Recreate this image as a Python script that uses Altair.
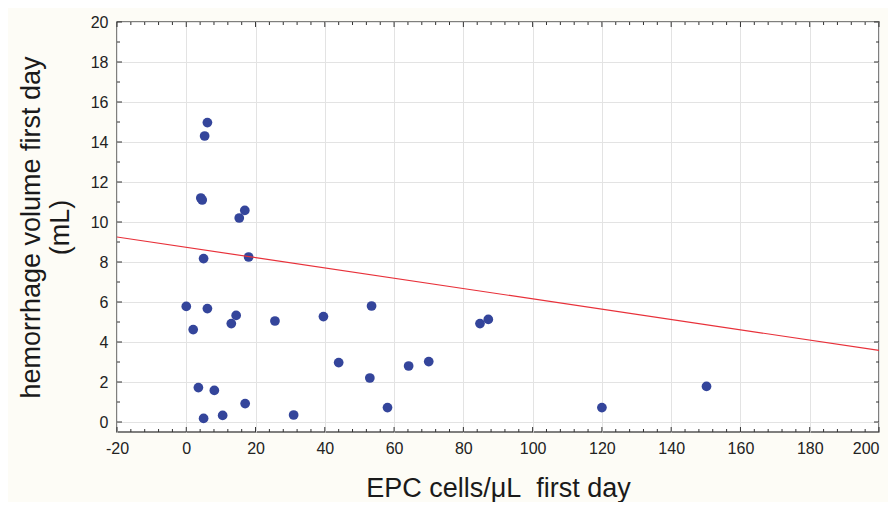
import altair as alt
import pandas as pd

# ---- data ----
epc = [0.0, 2.0, 3.5, 4.2, 4.6, 5.3, 6.1, 5.0, 5.0, 6.1, 8.1, 10.5, 13.0, 14.4,
       17.0, 25.6, 31.0, 15.3, 16.9, 18.0, 39.6, 44.0, 53.5, 53.0, 58.1, 64.2,
       70.0, 84.8, 87.2, 120.0, 150.2]
vol = [5.78, 4.62, 1.72, 11.2, 11.1, 14.3, 14.97, 8.17, 0.18, 5.67, 1.58, 0.33,
       4.92, 5.33, 0.92, 5.05, 0.35, 10.2, 10.58, 8.25, 5.27, 2.97, 5.8, 2.2,
       0.72, 2.8, 3.02, 4.92, 5.13, 0.72, 1.78]

fit_x = [-20, 200]
fit_y = [9.25, 3.58]

x_major = list(range(-20, 201, 20))
x_minor = [v for v in range(-20, 201, 4) if v not in x_major]
y_major = list(range(0, 21, 2))
y_minor = [v for v in range(0, 21, 1) if v not in y_major]

W, H = 762, 410
FONT = "Liberation Sans"

pts = pd.DataFrame({"x": epc, "y": vol})
fit = pd.DataFrame({"x": fit_x, "y": fit_y})

xs = alt.Scale(domain=[-20, 200], nice=False, zero=False)
ys = alt.Scale(domain=[-0.5, 20], nice=False, zero=False)

x_axis = alt.Axis(values=x_major, grid=True, gridColor="#E3E3E3", ticks=False,
                  domain=False, labelFontSize=16, labelFont=FONT, labelColor="#222",
                  labelPadding=8, title="EPC cells/\u03bcL\u00a0 first day",
                  labelExpr="datum.value < 0 ? '-' + abs(datum.value) : datum.label",
                  labelAlign=alt.expr("datum.value >= 200 ? 'right' : 'center'"),
                  titleFontSize=27, titleFont=FONT, titleFontWeight="normal",
                  titleColor="#1a1a1a", titlePadding=19, labelFlush=False)
y_axis = alt.Axis(values=y_major, grid=True, gridColor="#E3E3E3", ticks=False,
                  domain=False, labelFontSize=16, labelFont=FONT, labelColor="#222",
                  labelPadding=9, title=["hemorrhage volume first day", "(mL)"],
                  titleFontSize=27, titleFont=FONT, titleFontWeight="normal",
                  titleColor="#1a1a1a", titlePadding=16, titleLineHeight=29,
                  labelFlush=False)

X = alt.X("x:Q", scale=xs, axis=x_axis)
Y = alt.Y("y:Q", scale=ys, axis=y_axis)

points = alt.Chart(pts).mark_circle(size=95, color="#34459B", opacity=1).encode(
    x=X, y=Y,
)

line = alt.Chart(fit).mark_line(color="#E8313A", strokeWidth=1.2).encode(
    x=X, y=Y,
)


def xticks(vals, length):
    df = pd.DataFrame({"x": vals})
    base = alt.Chart(df).mark_rule(color="#333", strokeWidth=1)
    bottom = base.encode(x=X, y=alt.value(H), y2=alt.value(H - length))
    top = base.encode(x=X, y=alt.value(0), y2=alt.value(length))
    return [bottom, top]


def yticks(vals, length):
    df = pd.DataFrame({"y": vals})
    base = alt.Chart(df).mark_rule(color="#333", strokeWidth=1)
    left = base.encode(y=Y, x=alt.value(0), x2=alt.value(length))
    right = base.encode(y=Y, x=alt.value(W), x2=alt.value(W - length))
    return [left, right]


layers = [points, line] + xticks(x_major, 5) + xticks(x_minor, 3) \
    + yticks(y_major, 5) + yticks(y_minor, 3)

chart = alt.layer(*layers).properties(
    width=W, height=H,
    autosize=alt.AutoSizeParams(type="none"),
    padding={"left": 109, "top": 14, "right": 9, "bottom": 70},
    background="#FDFCF6",
).configure_view(
    stroke="#555555", strokeWidth=1.5, fill="white"
)

chart.save("out.html", embed_options={"renderer": "svg", "actions": False})
